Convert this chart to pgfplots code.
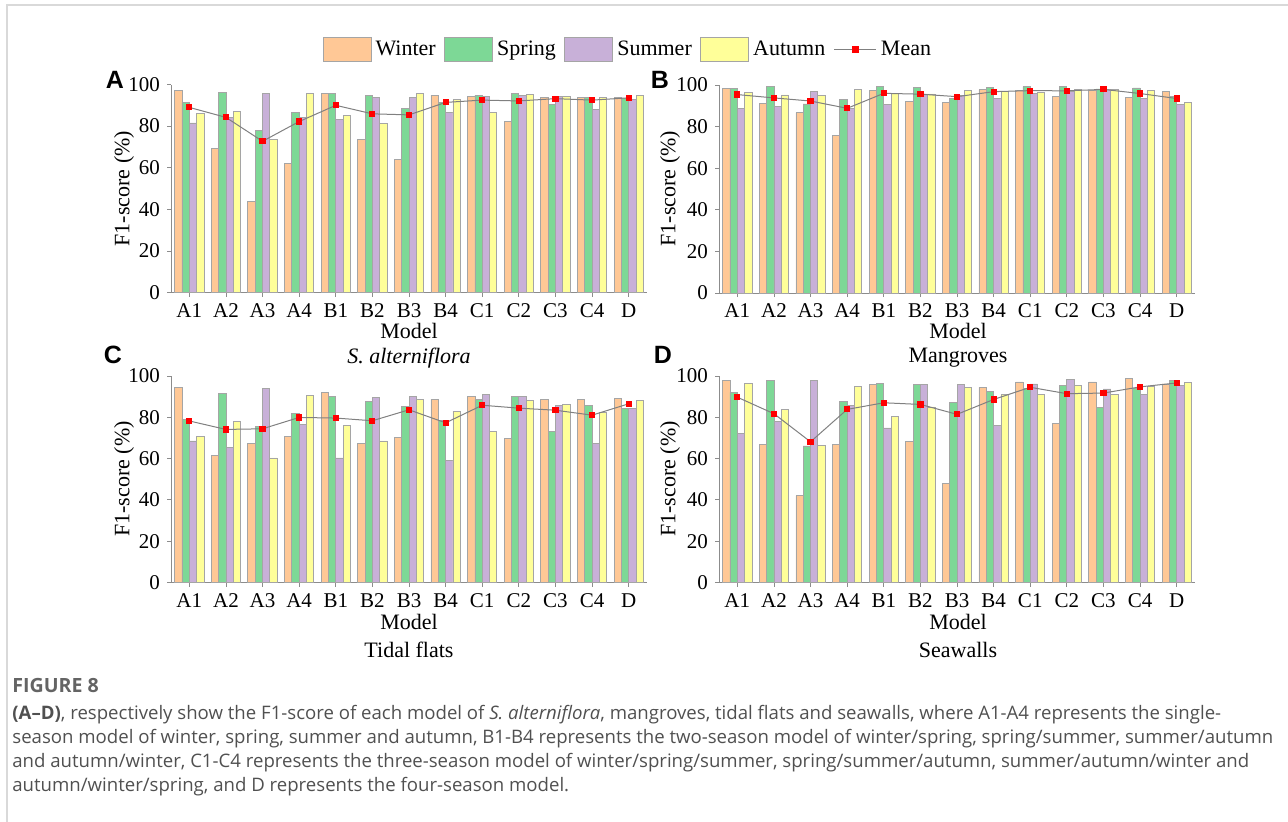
\documentclass[border=0pt]{standalone}
\usepackage{pgfplots}
\pgfplotsset{compat=1.18}
\usepackage{pgfplotstable}
\usepackage{fontspec}
\setmainfont{Liberation Serif}
\newfontfamily\lsans{Liberation Sans}
\newfontfamily\capfont{Open Sans}
\definecolor{cW}{RGB}{255,200,150}
\definecolor{cSp}{RGB}{125,216,150}
\definecolor{cSu}{RGB}{200,176,216}
\definecolor{cAu}{RGB}{255,255,153}
\definecolor{bedge}{RGB}{165,165,165}
\definecolor{axgray}{RGB}{140,140,140}
\definecolor{capgray}{RGB}{80,80,80}
\definecolor{figgray}{RGB}{100,100,100}

\pgfplotstableread{
x W Sp Su Au M
0 97.3 91.2 81.5 85.9 89.0
1 69.2 96.3 84.3 87.0 84.2
2 43.7 77.8 95.7 73.7 72.7
3 62.1 86.7 84.1 95.8 82.2
4 95.8 95.8 83.3 85.1 90.0
5 73.5 94.9 93.9 81.4 85.9
6 64.0 88.3 93.9 95.5 85.4
7 94.9 91.3 86.5 92.9 91.4
8 94.4 94.9 94.4 86.5 92.5
9 82.3 95.8 94.9 95.2 92.1
10 93.9 90.5 94.4 94.1 93.2
11 93.9 93.9 88.1 93.9 92.5
12 93.7 93.1 92.9 94.7 93.6
}\tabA
\pgfplotstableread{
x W Sp Su Au M
0 98.2 98.2 88.8 96.5 95.4
1 91.0 99.2 89.6 95.2 93.8
2 86.7 90.9 96.8 94.9 92.3
3 75.8 92.9 88.6 97.9 88.8
4 97.6 99.4 90.7 96.1 96.0
5 92.0 98.9 95.7 95.7 95.6
6 91.5 93.6 94.9 97.6 94.4
7 97.8 98.7 93.6 97.1 96.8
8 97.4 99.2 96.1 96.6 97.3
9 94.7 99.2 97.1 97.9 97.2
10 97.6 98.1 97.9 97.9 97.9
11 93.9 98.6 93.4 97.6 95.9
12 96.9 94.7 90.7 91.8 93.5
}\tabB
\pgfplotstableread{
x W Sp Su Au M
0 94.4 79.1 68.5 70.9 78.2
1 61.7 91.5 65.3 77.8 74.1
2 67.5 75.6 94.1 60.3 74.4
3 70.7 81.8 76.5 90.5 79.9
4 92.0 89.9 60.3 76.0 79.6
5 67.5 87.5 89.7 68.5 78.3
6 70.4 85.4 89.9 88.7 83.6
7 88.6 78.3 59.3 83.0 77.3
8 90.0 88.7 91.0 73.3 85.8
9 69.8 89.9 89.9 88.1 84.4
10 88.4 73.3 85.7 86.3 83.4
11 88.4 85.9 67.5 82.2 81.0
12 89.2 84.4 84.4 88.1 86.5
}\tabC
\pgfplotstableread{
x W Sp Su Au M
0 97.9 92.0 72.3 96.5 89.7
1 67.0 97.9 78.1 83.6 81.7
2 42.0 66.1 97.9 66.2 68.1
3 67.0 87.6 85.9 94.7 83.8
4 96.0 96.5 74.8 80.5 87.0
5 68.2 95.8 95.8 85.0 86.2
6 47.9 87.3 95.8 94.4 81.4
7 94.4 92.6 76.2 91.2 88.6
8 97.1 93.8 96.1 91.0 94.5
9 77.0 95.3 98.1 95.3 91.4
10 97.1 84.7 93.7 91.2 91.7
11 98.7 94.1 91.2 94.9 94.7
12 96.1 97.9 95.5 96.9 96.6
}\tabD

\pgfplotsset{
 panel/.style={
  scale only axis, anchor=south west,
  width=238pt, height=104pt,
  xmin=-0.5, xmax=12.5, ymin=0, ymax=100,
  axis x line*=bottom, axis y line*=left,
  axis line style={draw=axgray, line width=0.5pt},
  xtick={0,...,12},
  xticklabels={A1,A2,A3,A4,B1,B2,B3,B4,C1,C2,C3,C4,D},
  ytick={0,20,...,100},
  tick align=outside, major tick length=2pt,
  tick style={draw=axgray, line width=0.4pt},
  ticklabel style={font=\fontsize{10.5}{12}\selectfont},
  /pgf/number format/assume math mode=true,
  clip=false,
 },
 wbar/.style={ybar, bar width=0.2, bar shift=-0.3, fill=cW, draw=bedge, line width=0.4pt},
 spbar/.style={ybar, bar width=0.2, bar shift=-0.1, fill=cSp, draw=bedge, line width=0.4pt},
 subar/.style={ybar, bar width=0.2, bar shift=0.1, fill=cSu, draw=bedge, line width=0.4pt},
 aubar/.style={ybar, bar width=0.2, bar shift=0.3, fill=cAu, draw=bedge, line width=0.4pt},
 meanline/.style={draw=gray, line width=0.5pt, mark=square*, mark size=1.3pt, mark options={fill=red, draw=red, solid}},
 barleg/.style={legend image code/.code={\draw[fill=##1,draw=bedge,line width=0.4pt] (0pt,-6pt) rectangle (24pt,6pt);}},
 meanleg/.style={legend image code/.code={\draw[mark repeat=2,mark phase=2,##1] plot coordinates {(0pt,0pt) (10.5pt,0pt) (21pt,0pt)};}},
}

\begin{document}
\begin{tikzpicture}
\path[use as bounding box] (0pt,0pt) rectangle (644pt,-410.5pt);

% Panel A
\begin{axis}[panel, at={(85.5pt,-146.25pt)},
  legend style={at={(axis description cs:0.962,1.168)}, anchor=center, draw=none, fill=none,
    legend columns=-1, font=\fontsize{11}{13}\selectfont,
    /tikz/every even column/.append style={column sep=2.3pt},
    /tikz/every odd column/.append style={column sep=0pt}},
  legend cell align=left]
\addplot[wbar, barleg=cW] table[x=x,y=W]{\tabA};
\addlegendentry{Winter}
\addplot[spbar, barleg=cSp] table[x=x,y=Sp]{\tabA};
\addlegendentry{Spring}
\addplot[subar, barleg=cSu] table[x=x,y=Su]{\tabA};
\addlegendentry{Summer}
\addplot[aubar, barleg=cAu] table[x=x,y=Au]{\tabA};
\addlegendentry{Autumn}
\addplot[meanline, meanleg] table[x=x,y=M]{\tabA};
\addlegendentry{Mean}
\end{axis}

% Panel B
\begin{axis}[panel, at={(359.5pt,-146.5pt)}]
\addplot[wbar] table[x=x,y=W]{\tabB};
\addplot[spbar] table[x=x,y=Sp]{\tabB};
\addplot[subar] table[x=x,y=Su]{\tabB};
\addplot[aubar] table[x=x,y=Au]{\tabB};
\addplot[meanline] table[x=x,y=M]{\tabB};
\end{axis}

% Panel C
\begin{axis}[panel, at={(85.5pt,-291.25pt)}, height=103.3pt]
\addplot[wbar] table[x=x,y=W]{\tabC};
\addplot[spbar] table[x=x,y=Sp]{\tabC};
\addplot[subar] table[x=x,y=Su]{\tabC};
\addplot[aubar] table[x=x,y=Au]{\tabC};
\addplot[meanline] table[x=x,y=M]{\tabC};
\end{axis}

% Panel D
\begin{axis}[panel, at={(359.5pt,-291.25pt)}, height=103.3pt]
\addplot[wbar] table[x=x,y=W]{\tabD};
\addplot[spbar] table[x=x,y=Sp]{\tabD};
\addplot[subar] table[x=x,y=Su]{\tabD};
\addplot[aubar] table[x=x,y=Au]{\tabD};
\addplot[meanline] table[x=x,y=M]{\tabD};
\end{axis}

\begin{scope}[x=0.5pt,y=-0.5pt]
\draw[gray!30, line width=1pt] (7,5) rectangle (1310,840);
% panel letters
\node[font=\lsans\bfseries\fontsize{12.5}{14}\selectfont] at (115,79.5) {A};
\node[font=\lsans\bfseries\fontsize{12.5}{14}\selectfont] at (660,79.5) {B};
\node[font=\lsans\bfseries\fontsize{12.5}{14}\selectfont] at (113,355) {C};
\node[font=\lsans\bfseries\fontsize{12.5}{14}\selectfont] at (663,355) {D};
% y labels
\foreach \xx/\yy in {124/188.6, 670/188.6, 124/479, 670/479}
  \node[rotate=90, font=\fontsize{11}{13}\selectfont] at (\xx,\yy) {F1-score (\%)};
% x labels and titles
\foreach \xx/\yy in {409/331, 958/331, 409/622, 958/622}
  \node[font=\fontsize{11}{13}\selectfont] at (\xx,\yy) {Model};
\node[font=\fontsize{11}{13}\selectfont\itshape] at (409,358) {S. alterniflora};
\node[font=\fontsize{11}{13}\selectfont] at (958,358) {Mangroves};
\node[font=\fontsize{11}{13}\selectfont] at (409,650) {Tidal flats};
\node[font=\fontsize{11}{13}\selectfont] at (958,650) {Seawalls};
% caption
\node[anchor=base west, inner sep=0pt, text=figgray, font=\capfont\bfseries\fontsize{9.8}{11}\selectfont] at (12,692) {FIGURE 8};
\node[anchor=base west, inner sep=0pt, text=capgray, font=\capfont\fontsize{9.3}{11}\selectfont] at (12,719) {\textbf{(A–D)}, respectively show the F1-score of each model of \textit{S. alterniflora}, mangroves, tidal flats and seawalls, where A1-A4 represents the single-};
\node[anchor=base west, inner sep=0pt, text=capgray, font=\capfont\fontsize{9.3}{11}\selectfont] at (12,743) {season model of winter, spring, summer and autumn, B1-B4 represents the two-season model of winter/spring, spring/summer, summer/autumn};
\node[anchor=base west, inner sep=0pt, text=capgray, font=\capfont\fontsize{9.3}{11}\selectfont] at (12,767) {and autumn/winter, C1-C4 represents the three-season model of winter/spring/summer, spring/summer/autumn, summer/autumn/winter and};
\node[anchor=base west, inner sep=0pt, text=capgray, font=\capfont\fontsize{9.3}{11}\selectfont] at (12,791) {autumn/winter/spring, and D represents the four-season model.};
\end{scope}
\end{tikzpicture}
\end{document}
